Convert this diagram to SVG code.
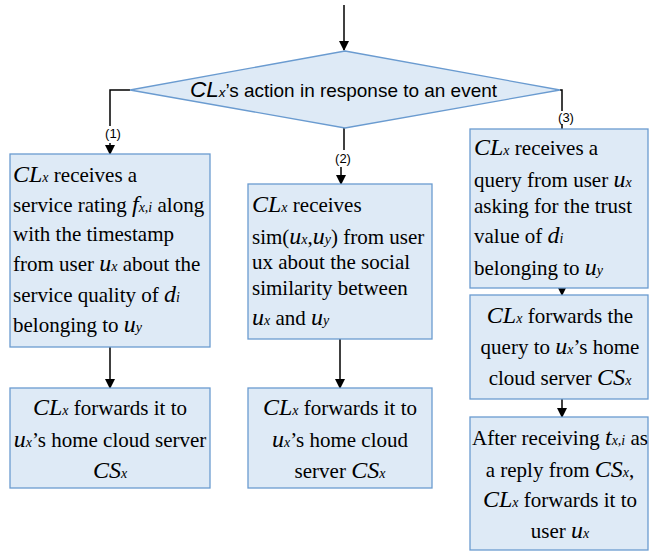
<svg xmlns="http://www.w3.org/2000/svg" width="649" height="552" viewBox="0 0 649 552">
<style>
.box{fill:#deeaf6;stroke:#6a9bd0;stroke-width:1.3}
.t{font-family:"Liberation Serif","Times New Roman",serif;font-size:21px;fill:#000}
.m{font-style:italic;font-size:24px}
.s{font-style:italic;font-size:14px}
.c{text-anchor:middle}
.ln{stroke:#000;stroke-width:1.5;fill:none}
.lab{font-family:"Liberation Sans",Arial,sans-serif;font-size:13px;text-anchor:middle;fill:#000}
</style>
<defs>
<marker id="ah" markerWidth="10" markerHeight="10" refX="9" refY="5" orient="auto" markerUnits="userSpaceOnUse">
<path d="M0,0 L10,5 L0,10 Z" fill="#000"/>
</marker>
</defs>
<rect width="649" height="552" fill="#fff"/>
<g id="connectors">
<path class="ln" d="M344,5 V50" marker-end="url(#ah)"/>
<path class="ln" d="M130,90 H110 V126"/>
<path class="ln" d="M110,143 V154" marker-end="url(#ah)"/>
<path class="ln" d="M344,128 V150"/>
<path class="ln" d="M341,167 V184" marker-end="url(#ah)"/>
<path class="ln" d="M560,90 H562 V111"/>
<path class="ln" d="M562,124 V129"/>
<path class="ln" d="M110,347 V388" marker-end="url(#ah)"/>
<path class="ln" d="M340,339 V388" marker-end="url(#ah)"/>
<path class="ln" d="M562,286 V295" marker-end="url(#ah)"/>
<path class="ln" d="M562,399 V417" marker-end="url(#ah)"/>
<text class="lab" x="113" y="138">(1)</text>
<text class="lab" x="343" y="163">(2)</text>
<text class="lab" x="566" y="122">(3)</text>
</g>
<g id="decision">
<polygon class="box" points="345,51 560,90 345,128 130,90"/>
<text x="190" y="97" font-family="Liberation Sans,Arial,sans-serif" font-size="18.5" textLength="307" lengthAdjust="spacingAndGlyphs"><tspan font-style="italic" font-size="22">CL</tspan><tspan font-style="italic" font-size="13">x</tspan>’s action in response to an event</text>
</g>
<g id="box1">
<rect class="box" x="10" y="154" width="200" height="193"/>
<text class="t" x="13" y="182"><tspan class="m">CL</tspan><tspan class="s">x</tspan>  receives a</text>
<text class="t" x="13" y="212">service rating <tspan class="m">f</tspan><tspan class="s">x,i</tspan> along</text>
<text class="t" x="13" y="241">with the timestamp</text>
<text class="t" x="13" y="271">from user <tspan class="m">u</tspan><tspan class="s">x</tspan> about the</text>
<text class="t" x="13" y="302">service quality of <tspan class="m">d</tspan><tspan class="s">i</tspan></text>
<text class="t" x="13" y="332">belonging to <tspan class="m">u</tspan><tspan class="s">y</tspan></text>
</g>
<g id="box2">
<rect class="box" x="248" y="184" width="184" height="155"/>
<text class="t" x="252" y="212"><tspan class="m">CL</tspan><tspan class="s">x</tspan> receives</text>
<text class="t" x="252" y="244">sim(<tspan class="m">u</tspan><tspan class="s">x</tspan>,<tspan class="m">u</tspan><tspan class="s">y</tspan>) from user</text>
<text class="t" x="252" y="269">ux about the social</text>
<text class="t" x="252" y="295">similarity between</text>
<text class="t" x="252" y="325"><tspan class="m">u</tspan><tspan class="s">x</tspan> and <tspan class="m">u</tspan><tspan class="s">y</tspan></text>
</g>
<g id="box3">
<rect class="box" x="470" y="129" width="178" height="159"/>
<text class="t" x="474" y="155"><tspan class="m">CL</tspan><tspan class="s">x</tspan> receives a</text>
<text class="t" x="474" y="187">query from user <tspan class="m">u</tspan><tspan class="s">x</tspan></text>
<text class="t" x="474" y="213">asking for the trust</text>
<text class="t" x="474" y="243">value of <tspan class="m">d</tspan><tspan class="s">i</tspan></text>
<text class="t" x="474" y="275">belonging to <tspan class="m">u</tspan><tspan class="s">y</tspan></text>
</g>
<g id="box4">
<rect class="box" x="10" y="388" width="200" height="100"/>
<text class="t c" x="110" y="415"><tspan class="m">CL</tspan><tspan class="s">x</tspan> forwards it to</text>
<text class="t c" x="110" y="447"><tspan class="m">u</tspan><tspan class="s">x</tspan>’s home cloud server</text>
<text class="t c" x="110" y="478"><tspan class="m">CS</tspan><tspan class="s">x</tspan></text>
</g>
<g id="box5">
<rect class="box" x="248" y="388" width="184" height="100"/>
<text class="t c" x="340" y="415"><tspan class="m">CL</tspan><tspan class="s">x</tspan> forwards it to</text>
<text class="t c" x="340" y="447"><tspan class="m">u</tspan><tspan class="s">x</tspan>’s home cloud</text>
<text class="t c" x="340" y="478">server <tspan class="m">CS</tspan><tspan class="s">x</tspan></text>
</g>
<g id="box6">
<rect class="box" x="470" y="295" width="178" height="104"/>
<text class="t c" x="560" y="323"><tspan class="m">CL</tspan><tspan class="s">x</tspan> forwards the</text>
<text class="t c" x="560" y="354">query to <tspan class="m">u</tspan><tspan class="s">x</tspan>’s home</text>
<text class="t c" x="560" y="385">cloud server <tspan class="m">CS</tspan><tspan class="s">x</tspan></text>
</g>
<g id="box7">
<rect class="box" x="470" y="417" width="178" height="133"/>
<text class="t c" x="560" y="445">After receiving <tspan class="m">t</tspan><tspan class="s">x,i</tspan> as</text>
<text class="t c" x="560" y="477">a reply from <tspan class="m">CS</tspan><tspan class="s">x</tspan>,</text>
<text class="t c" x="560" y="507"><tspan class="m">CL</tspan><tspan class="s">x</tspan> forwards it to</text>
<text class="t c" x="560" y="538">user <tspan class="m">u</tspan><tspan class="s">x</tspan></text>
</g>
</svg>
